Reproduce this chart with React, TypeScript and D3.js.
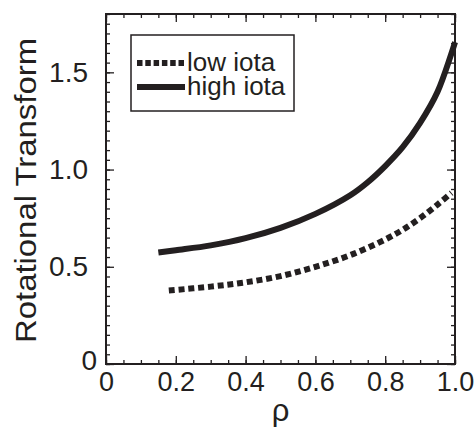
import * as d3 from 'd3';
import React, { useEffect, useRef } from 'react';

// high iota (solid)
const highRho = [0.15, 0.2, 0.3, 0.4, 0.5, 0.6, 0.7, 0.75, 0.8, 0.85, 0.9, 0.95, 1.0];
const highIota = [0.573, 0.585, 0.61, 0.647, 0.70, 0.772, 0.868, 0.935, 1.018, 1.115, 1.24, 1.40, 1.655];

// low iota (dotted)
const lowRho = [0.18, 0.3, 0.4, 0.5, 0.6, 0.7, 0.8, 0.85, 0.9, 0.95, 0.99];
const lowIota = [0.378, 0.398, 0.42, 0.452, 0.50, 0.56, 0.64, 0.69, 0.75, 0.82, 0.88];

const xTicks = [0, 0.2, 0.4, 0.6, 0.8, 1.0];
const yTicks = [0, 0.5, 1.0, 1.5];
const seriesNames = ['low iota', 'high iota'];

const W = 476;
const H = 427;
const ink = '#231f20';
const font = '"Liberation Sans", Arial, Helvetica, sans-serif';

const App = () => {
  const ref = useRef<SVGSVGElement>(null);
  const margin = { top: 14, right: 21, bottom: 63, left: 106 };

  useEffect(() => {
    const svg = d3.select(ref.current);
    svg.selectAll('*').remove();

    const width = W - margin.left - margin.right;
    const height = H - margin.top - margin.bottom;

    const x = d3.scaleLinear().domain([0, 1]).range([margin.left, margin.left + width]);
    const y = d3.scaleLinear().domain([0, 1.8]).range([margin.top + height, margin.top]);

    const fmt = (d: number) => (d === 0 ? '0' : d3.format('.1f')(d));
    const minorX = d3.range(0, 1.0001, 0.05);
    const minorY = d3.range(0, 1.8001, 0.05);

    const styleAxis = (g: any) => {
      g.select('.domain').remove();
      g.selectAll('line').attr('stroke', ink).attr('stroke-width', 1.3);
      g.selectAll('text').attr('fill', ink).style('font-family', font).style('font-size', '27px');
    };

    // minor ticks, all four sides, inward
    svg.append('g').attr('transform', `translate(0,${margin.top + height})`)
      .call(d3.axisBottom(x).tickValues(minorX).tickSize(-4).tickFormat(() => '')).call(styleAxis);
    svg.append('g').attr('transform', `translate(0,${margin.top})`)
      .call(d3.axisTop(x).tickValues(minorX).tickSize(-4).tickFormat(() => '')).call(styleAxis);
    svg.append('g').attr('transform', `translate(${margin.left},0)`)
      .call(d3.axisLeft(y).tickValues(minorY).tickSize(-4).tickFormat(() => '')).call(styleAxis);
    svg.append('g').attr('transform', `translate(${margin.left + width},0)`)
      .call(d3.axisRight(y).tickValues(minorY).tickSize(-4).tickFormat(() => '')).call(styleAxis);

    // major ticks + labels
    svg.append('g').attr('transform', `translate(0,${margin.top + height})`)
      .call(d3.axisBottom(x).tickValues(xTicks).tickSize(-8).tickPadding(8).tickFormat(fmt as any)).call(styleAxis);
    svg.append('g').attr('transform', `translate(0,${margin.top})`)
      .call(d3.axisTop(x).tickValues(xTicks).tickSize(-8).tickFormat(() => '')).call(styleAxis);
    const yAx = svg.append('g').attr('transform', `translate(${margin.left},0)`)
      .call(d3.axisLeft(y).tickValues(yTicks).tickSize(-8).tickPadding(18).tickFormat(fmt as any)).call(styleAxis);
    yAx.selectAll('text').style('font-size', '28px');
    // the zero on the y axis sits tucked in near the corner
    yAx.selectAll('text').filter((d: any) => d === 0).attr('x', -9).attr('dy', '0.2em');
    svg.append('g').attr('transform', `translate(${margin.left + width},0)`)
      .call(d3.axisRight(y).tickValues(yTicks).tickSize(-8).tickFormat(() => '')).call(styleAxis);

    // frame
    svg.append('rect')
      .attr('x', margin.left).attr('y', margin.top)
      .attr('width', width).attr('height', height)
      .attr('fill', 'none').attr('stroke', ink).attr('stroke-width', 2);

    // curves
    const line = d3.line<[number, number]>()
      .x(d => x(d[0])).y(d => y(d[1]))
      .curve(d3.curveCatmullRom.alpha(0.5));

    svg.append('path')
      .datum(lowRho.map((r, i) => [r, lowIota[i]] as [number, number]))
      .attr('d', line).attr('fill', 'none')
      .attr('stroke', ink).attr('stroke-width', 6)
      .attr('stroke-dasharray', '6 3.8');

    svg.append('path')
      .datum(highRho.map((r, i) => [r, highIota[i]] as [number, number]))
      .attr('d', line).attr('fill', 'none')
      .attr('stroke', ink).attr('stroke-width', 6);

    // axis titles
    svg.append('text')
      .attr('x', x(0.5)).attr('y', 421)
      .attr('text-anchor', 'middle').attr('fill', ink)
      .style('font-family', font).style('font-size', '31px')
      .text('ρ');

    svg.append('text')
      .attr('transform', `translate(36,${(38 + 343) / 2}) rotate(-90)`)
      .attr('text-anchor', 'middle').attr('fill', ink)
      .attr('textLength', 305).attr('lengthAdjust', 'spacingAndGlyphs')
      .style('font-family', font).style('font-size', '29px')
      .text('Rotational Transform');

    // legend
    const leg = svg.append('g').attr('transform', 'translate(131,35)');
    leg.append('rect').attr('width', 163).attr('height', 76)
      .attr('fill', '#fff').attr('stroke', ink).attr('stroke-width', 1.5);
    seriesNames.forEach((name, i) => {
      const ly = 28 + i * 24;
      leg.append('line')
        .attr('x1', 6).attr('x2', 54).attr('y1', ly).attr('y2', ly)
        .attr('stroke', ink).attr('stroke-width', 6)
        .attr('stroke-dasharray', i === 0 ? '5.5 2.8' : null);
      leg.append('text')
        .attr('x', 56).attr('y', ly + 4 + 4)
        .attr('fill', ink)
        .style('font-family', font).style('font-size', '26px')
        .text(name);
    });
  }, []);

  return (
    <div style={{ position: 'absolute', left: 0, top: 0, width: W, height: H }}>
      <svg ref={ref} width={W} height={H} style={{ display: 'block' }}></svg>
    </div>
  );
};

export default App;
